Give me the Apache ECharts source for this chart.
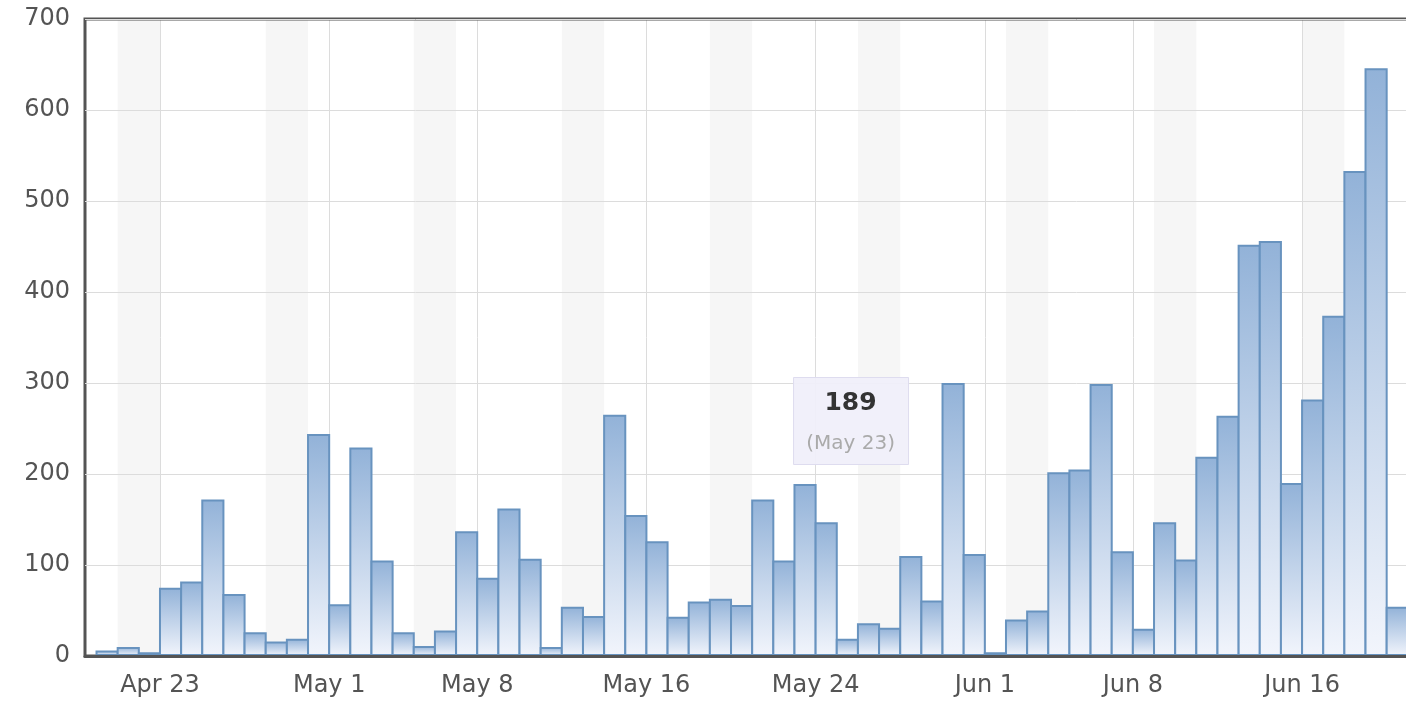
<!DOCTYPE html>
<html>
<head>
<meta charset="utf-8">
<style>
  html, body { margin: 0; padding: 0; background: #fff; }
  #chart { width: 1406px; height: 701px; }
</style>
<script src="https://cdn.jsdelivr.net/npm/echarts@6/dist/echarts.min.js"></script>
</head>
<body>
<div id="chart"></div>
<script>
/* daily counts, Apr 20 - Jun 20 (2012) */
const monthNames = ['Jan', 'Feb', 'Mar', 'Apr', 'May', 'Jun', 'Jul', 'Aug', 'Sep', 'Oct', 'Nov', 'Dec'];
const firstDay = [2012, 3, 20];   // Apr 20

const counts = [
  6, 10, 4, 75, 82, 172, 68, 26, 16, 19, 244,        // Apr 20-30
  57, 229, 105, 26, 11, 28, 137, 86, 162, 107,        // May 1-10
  10, 54, 44, 265, 155, 126, 43, 60, 63, 56,          // May 11-20
  172, 105, 189, 147, 19, 36, 31, 110, 61, 300, 112,  // May 21-31
  4, 40, 50, 202, 205, 299, 115, 30, 147, 106,        // Jun 1-10
  219, 264, 452, 456, 190, 282, 374, 533, 646, 54     // Jun 11-20
];

const tickLabels = ['Apr 23', 'May 1', 'May 8', 'May 16', 'May 24', 'Jun 1', 'Jun 8', 'Jun 16'];
const yTicks = [0, 100, 200, 300, 400, 500, 600, 700];
const highlightDay = 'May 23';

/* dates for each bar (index = days since first day) */
const dates = counts.map((_, i) => new Date(Date.UTC(firstDay[0], firstDay[1], firstDay[2] + i)));
const days = dates.map(d => monthNames[d.getUTCMonth()] + ' ' + d.getUTCDate());
const tickIdx = tickLabels.map(t => days.indexOf(t));

// weekends: Saturday + Sunday bands
const weekendBands = [];
dates.forEach((d, i) => {
  if (d.getUTCDay() === 6) weekendBands.push([{ xAxis: i }, { xAxis: i + 2 }]);
});

/* ── 스타일 ── */
const FONT = "'DejaVu Sans', sans-serif";
const TEXT = '#545454';
const GRID_LINE = '#dcdcdc';

const GRID_LEFT = 85, GRID_TOP = 19, GRID_W = 1340, GRID_H = 637;
const DAY_PX = 21.15;
const X_MIN = -0.545;
const X_MAX = X_MIN + GRID_W / DAY_PX;

const chart = echarts.init(document.getElementById('chart'), null, { renderer: 'canvas' });

chart.setOption({
  animation: false,
  backgroundColor: '#fff',
  grid: {
    left: GRID_LEFT, top: GRID_TOP, width: GRID_W, height: GRID_H,
    outerBoundsMode: 'none',
    show: true, borderColor: TEXT, borderWidth: 3, backgroundColor: 'transparent'
  },
  xAxis: {
    type: 'value',
    min: X_MIN,
    max: X_MAX,
    z: 5,
    axisLine: { show: true, onZero: false, lineStyle: { color: TEXT, width: 3 } },
    axisTick: { show: false },
    splitLine: { show: false },
    axisLabel: {
      customValues: tickIdx,
      formatter: v => days[v] || '',
      color: TEXT, fontFamily: FONT, fontSize: 24, margin: 18
    }
  },
  yAxis: {
    type: 'value',
    min: yTicks[0],
    max: yTicks[yTicks.length - 1],
    interval: yTicks[1] - yTicks[0],
    axisLine: { show: false },
    axisTick: { show: false },
    splitLine: { lineStyle: { color: GRID_LINE, width: 1 } },
    axisLabel: { color: TEXT, fontFamily: FONT, fontSize: 24, margin: 15 }
  },
  series: [
    {
      // weekend shading (under the grid lines)
      type: 'line', data: [], z: -2, silent: true,
      markArea: {
        silent: true, z: -2,
        itemStyle: { color: '#f6f6f6' },
        data: weekendBands
      }
    },
    {
      // vertical grid lines at the labelled dates
      type: 'line', data: [], z: -1, silent: true,
      markLine: {
        silent: true, symbol: 'none', animation: false, z: -1,
        label: { show: false },
        lineStyle: { color: GRID_LINE, width: 1, type: 'solid' },
        data: tickIdx.map(i => ({ xAxis: i }))
      }
    },
    {
      type: 'bar',
      data: counts.map((v, i) => [i + 0.5, v]),
      barWidth: DAY_PX + 2,      // neighbouring borders overlap into one line
      barCategoryGap: 0,
      itemStyle: {
        color: new echarts.graphic.LinearGradient(0, 0, 0, 1, [
          { offset: 0, color: '#92b2d8' },
          { offset: 1, color: '#f2f5fc' }
        ]),
        borderColor: '#6893bf',
        borderWidth: 2
      }
    }
  ]
});

/* hover box over the highlighted day */
const hi = days.indexOf(highlightDay);
const p = chart.convertToPixel({ gridIndex: 0 }, [hi + 0.5, counts[hi]]);
const boxW = 115, boxH = 87;
const boxX = p[0] - 12, boxY = p[1] - 107;
chart.setOption({
  graphic: {
    elements: [
      {
        type: 'rect', left: boxX, top: boxY, z: 100,
        shape: { width: boxW, height: boxH },
        style: { fill: 'rgba(240,239,250,0.92)', stroke: '#dedcef', lineWidth: 1 }
      },
      {
        type: 'text', x: boxX + boxW / 2, y: boxY + 26, z: 101,
        style: {
          text: String(counts[hi]), fill: '#333', font: "bold 25px 'DejaVu Sans', sans-serif",
          align: 'center', verticalAlign: 'middle'
        }
      },
      {
        type: 'text', x: boxX + boxW / 2, y: boxY + 67, z: 101,
        style: {
          text: '(' + days[hi] + ')', fill: '#aaa', font: "20px 'DejaVu Sans', sans-serif",
          align: 'center', verticalAlign: 'middle'
        }
      }
    ]
  }
});
</script>
</body>
</html>
